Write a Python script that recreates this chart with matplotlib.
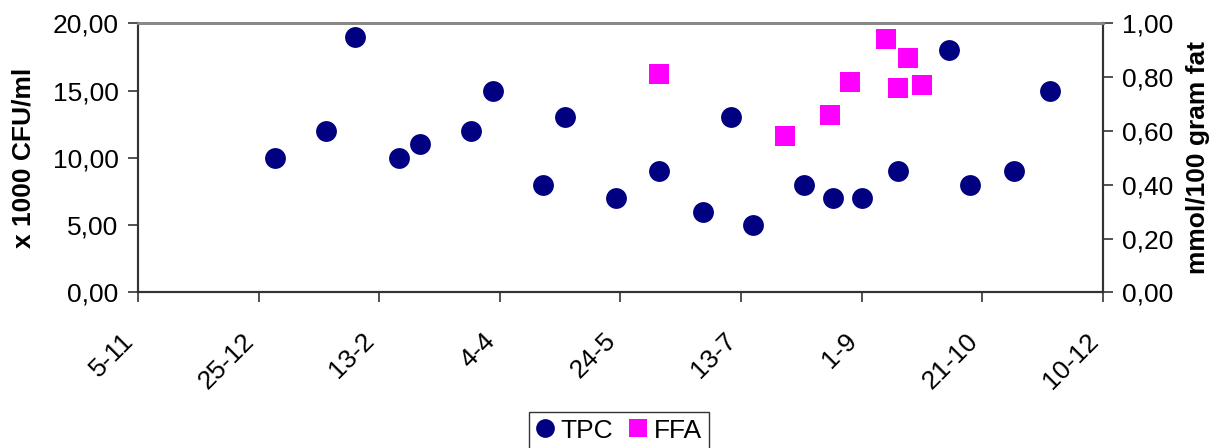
import matplotlib.pyplot as plt
import pandas as pd

plt.rcParams['font.family'] = ['Liberation Sans', 'DejaVu Sans']

# total plate count (x 1000 CFU/ml)
tpc_dates = ['2005-01-01', '2005-01-22', '2005-02-03', '2005-02-21', '2005-03-02',
             '2005-03-23', '2005-04-01', '2005-04-22', '2005-05-01', '2005-05-22',
             '2005-06-09', '2005-06-27', '2005-07-09', '2005-07-18', '2005-08-08',
             '2005-08-20', '2005-09-01', '2005-09-16', '2005-10-07', '2005-10-16',
             '2005-11-03', '2005-11-18']
tpc = [10, 12, 19, 10, 11, 12, 15, 8, 13, 7, 9, 6, 13, 5, 8, 7, 7, 9, 18, 8, 9, 15]

# free fatty acids (mmol/100 gram fat)
ffa_dates = ['2005-06-09', '2005-07-31', '2005-08-19', '2005-08-27',
             '2005-09-11', '2005-09-16', '2005-09-20', '2005-09-26']
ffa = [0.81, 0.58, 0.66, 0.78, 0.94, 0.76, 0.87, 0.77]

tick_dates = ['2004-11-05', '2004-12-25', '2005-02-13', '2005-04-04', '2005-05-24',
              '2005-07-13', '2005-09-01', '2005-10-21', '2005-12-10']
tick_labels = ['5-11', '25-12', '13-2', '4-4', '24-5', '13-7', '1-9', '21-10', '10-12']

tpc_x = pd.to_datetime(tpc_dates)
ffa_x = pd.to_datetime(ffa_dates)
ticks = pd.to_datetime(tick_dates)

fig = plt.figure(figsize=(12.23, 4.48), dpi=100)
ax = fig.add_axes([0.1128, 0.3475, 0.7891, 0.6005])
ax2 = ax.twinx()

p1, = ax.plot(tpc_x, tpc, 'o', color='#000080', markersize=15, markeredgewidth=0, label='TPC')
p2, = ax2.plot(ffa_x, ffa, 's', color='#FF00FF', markersize=14.5, markeredgewidth=0, label='FFA')

ax.set_xlim(ticks[0], ticks[-1])
ax.set_ylim(0, 20)
ax2.set_ylim(0, 1)
ax.set_yticks([0, 5, 10, 15, 20])
ax2.set_yticks([0, 0.2, 0.4, 0.6, 0.8, 1.0])

def comma(v, pos=None):
    return f'{v:.2f}'.replace('.', ',')

ax.yaxis.set_major_formatter(plt.FuncFormatter(comma))
ax2.yaxis.set_major_formatter(plt.FuncFormatter(comma))

ax.set_xticks(ticks)
ax.set_xticklabels(tick_labels, rotation=45, ha='right', va='top')

for a in (ax, ax2):
    a.tick_params(labelsize=19, length=7, width=1.2, color='#333333', pad=7)
    a.spines['top'].set_color('#888888')
    a.spines['top'].set_linewidth(2)
    for s in ('left', 'right', 'bottom'):
        a.spines[s].set_linewidth(1.5)
        a.spines[s].set_color('#333333')
ax.tick_params(axis='x', labelsize=19, pad=19)

ax.set_ylabel('x 1000 CFU/ml', fontsize=19, fontweight='bold', labelpad=12)
ax2.set_ylabel('mmol/100 gram fat', fontsize=19, fontweight='bold', labelpad=9)

leg = fig.legend(handles=[p1, p2], loc='upper center', bbox_to_anchor=(0.506, 1 - 412 / 448),
                 ncol=2, fontsize=19, frameon=True, fancybox=False, handlelength=0.7,
                 handletextpad=0.25, columnspacing=0.6, borderpad=0.25, borderaxespad=0,
                 markerscale=0.9)
leg.get_frame().set_edgecolor('black')
leg.get_frame().set_linewidth(1)

fig.savefig('out.png', dpi=100)
